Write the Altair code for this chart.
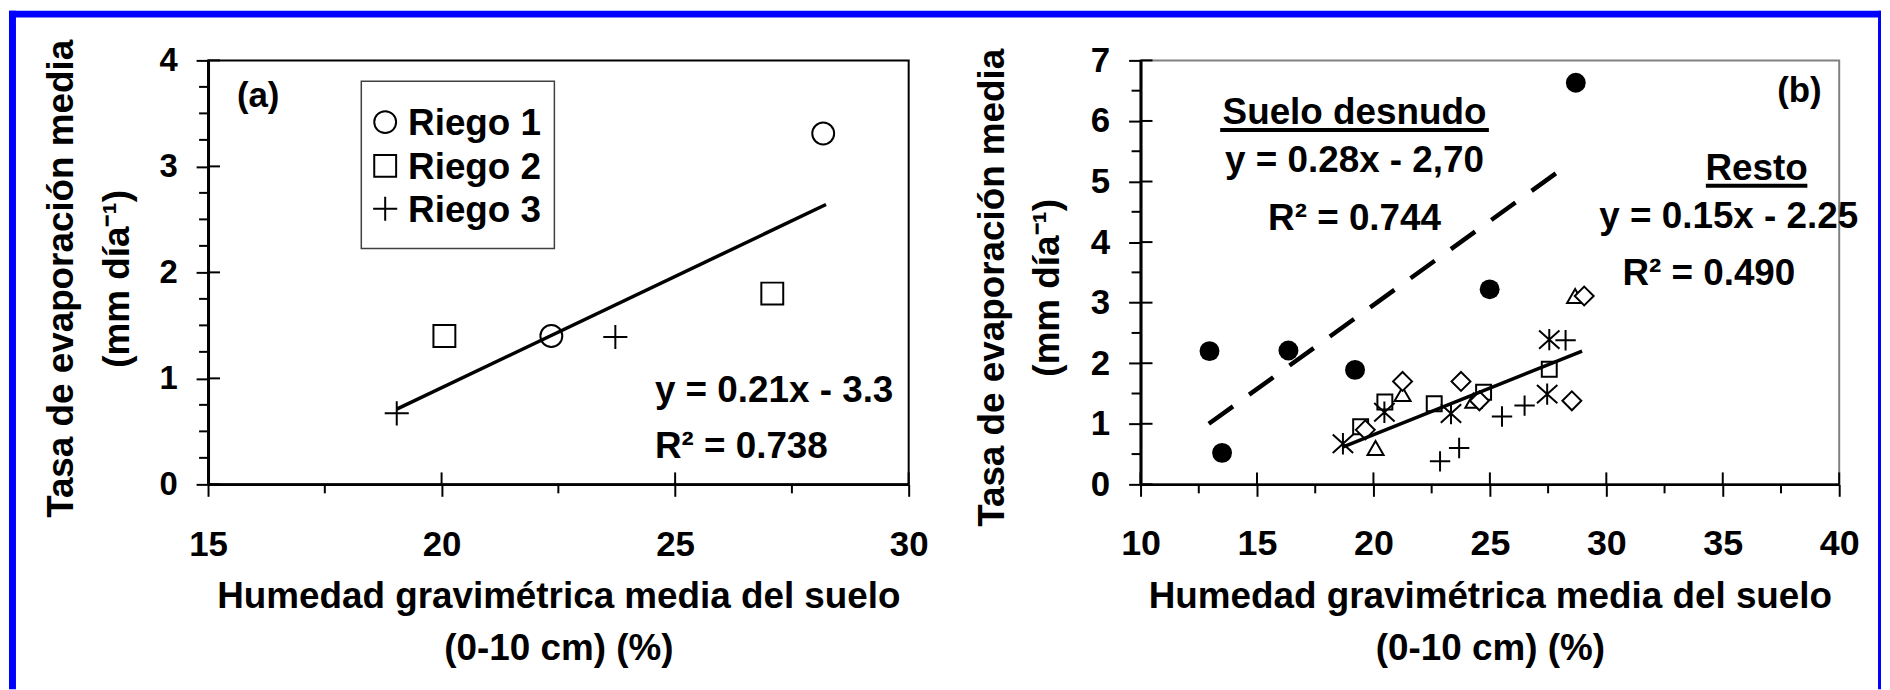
import altair as alt
import pandas as pd

FONT = "Liberation Sans"

# ---------------- panel (a) data ----------------
a_r1_x = [22.35, 28.17]
a_r1_y = [1.40, 3.31]
a_r2_x = [20.06, 27.08]
a_r2_y = [1.40, 1.80]
a_r3_x = [19.04, 23.72]
a_r3_y = [0.67, 1.39]
a_fit_x = [19.04, 28.23]
a_fit_y = [0.71, 2.64]
a_x_major = [15, 20, 25, 30]
a_x_minor = [17.5, 22.5, 27.5]
a_y_major = [0, 1, 2, 3, 4]
a_y_minor = [0.25, 0.5, 0.75, 1.25, 1.5, 1.75, 2.25, 2.5, 2.75, 3.25, 3.5, 3.75]
a_legend = ["Riego 1", "Riego 2", "Riego 3"]
a_tag = ["(a)"]
a_eq = ["y = 0.21x - 3.3"]
a_r2 = ["R\u00b2 = 0.738"]

# ---------------- panel (b) data ----------------
b_bare_x = [12.96, 13.50, 16.35, 19.21, 24.99, 28.69]
b_bare_y = [2.20, 0.52, 2.21, 1.89, 3.22, 6.63]
b_sq_x = [19.45, 20.49, 22.61, 24.73, 27.55]
b_sq_y = [0.95, 1.36, 1.33, 1.52, 1.90]
b_tri_x = [20.09, 21.25, 24.29, 28.66]
b_tri_y = [0.60, 1.49, 1.38, 3.11]
b_dia_x = [19.65, 21.25, 23.76, 24.55, 28.52, 29.05]
b_dia_y = [0.90, 1.70, 1.70, 1.38, 1.38, 3.11]
b_ast_x = [18.69, 20.47, 23.33, 27.46, 27.55]
b_ast_y = [0.67, 1.19, 1.17, 1.49, 2.39]
b_plus_x = [22.86, 23.68, 25.52, 26.49, 28.25]
b_plus_y = [0.38, 0.60, 1.12, 1.30, 2.38]
b_fit_bare_x = [12.93, 28.43]
b_fit_bare_y = [1.00, 5.30]
b_fit_rest_x = [18.70, 28.96]
b_fit_rest_y = [0.62, 2.20]
b_x_major = [10, 15, 20, 25, 30, 35, 40]
b_x_minor = [12.5, 17.5, 22.5, 27.5, 32.5, 37.5]
b_y_major = [0, 1, 2, 3, 4, 5, 6, 7]
b_y_minor = [0.5, 1.5, 2.5, 3.5, 4.5, 5.5, 6.5]
b_tag = ["(b)"]
b_head1 = ["Suelo desnudo"]
b_eq1 = ["y = 0.28x - 2,70"]
b_r21 = ["R\u00b2 = 0.744"]
b_head2 = ["Resto"]
b_eq2 = ["y = 0.15x - 2.25"]
b_r22 = ["R\u00b2 = 0.490"]

x_title = ["Humedad gravim\u00e9trica media del suelo", "(0-10 cm) (%)"]
y_title = ["Tasa de evaporaci\u00f3n media", "(mm d\u00eda\u207b\u00b9)"]

PLUS_A = "M-1.1,0H1.1M0,-1.1V1.1"
PLUS = "M-1,0H1M0,-1V1"
AST = "M0,-1.05V1.05M-1,-0.9L1,0.9M-1,0.9L1,-0.9"

W, H = 704, 426
WB = 702


def encs(xdom, ydom, xvals, yvals, w, xfs, yfs, xpad, ypad, ytx, yty):
    X = alt.X(
        "x:Q",
        scale=alt.Scale(domain=xdom, nice=False, zero=False),
        axis=alt.Axis(
            values=xvals, format="d", grid=False, labelFlush=False, labelOverlap=False,
            labelFontSize=xfs, labelPadding=xpad, labelFont=FONT, labelFontWeight="bold",
            labelColor="black", tickSize=12, tickWidth=2, tickColor="black",
            domainColor="black", domainWidth=2.5,
            title=x_title, titleFont=FONT, titleFontWeight="bold", titleFontSize=37,
            titleColor="black", titleX=w / 2, titleY=124, titleAlign="center",
            titleBaseline="alphabetic", titleLineHeight=52,
        ),
    )
    Y = alt.Y(
        "y:Q",
        scale=alt.Scale(domain=ydom, nice=False, zero=False),
        axis=alt.Axis(
            values=yvals, format="d", grid=False, labelOverlap=False,
            labelFontSize=yfs, labelPadding=ypad, labelFont=FONT, labelFontWeight="bold",
            labelColor="black", tickSize=12, tickWidth=2, tickColor="black",
            domainColor="black", domainWidth=3,
            title=y_title, titleFont=FONT, titleFontWeight="bold", titleFontSize=37,
            titleColor="black", titleAngle=270, titleX=ytx, titleY=yty,
            titleAlign="center", titleBaseline="alphabetic", titleLineHeight=56,
        ),
    )
    return X, Y


def tick_layers(X, Y, xmaj, xmin, ymaj, ymin, h):
    r = []
    r.append(alt.Chart(pd.DataFrame({"x": xmaj})).mark_rule(color="black", strokeWidth=2)
             .encode(x=X, y=alt.value(h), y2=alt.value(h - 12)))
    r.append(alt.Chart(pd.DataFrame({"x": xmin})).mark_rule(color="black", strokeWidth=2)
             .encode(x=X, y=alt.value(h), y2=alt.value(h + 9)))
    r.append(alt.Chart(pd.DataFrame({"y": ymaj})).mark_rule(color="black", strokeWidth=2)
             .encode(y=Y, x=alt.value(0), x2=alt.value(12)))
    r.append(alt.Chart(pd.DataFrame({"y": ymin})).mark_rule(color="black", strokeWidth=2)
             .encode(y=Y, x=alt.value(0), x2=alt.value(-9)))
    return r


def txt(lst, px, py, align="center", fs=37):
    return (alt.Chart(pd.DataFrame({"t": lst}))
            .mark_text(font=FONT, fontWeight="bold", fontSize=fs, color="black",
                       align=align, baseline="alphabetic")
            .encode(x=alt.value(px), y=alt.value(py), text="t:N"))


def uline(x1, x2, py):
    return (alt.Chart(pd.DataFrame({"k": [0]})).mark_rule(color="black", strokeWidth=4)
            .encode(x=alt.value(x1), x2=alt.value(x2), y=alt.value(py)))


def brect(x1, x2, y1, y2):
    return (alt.Chart(pd.DataFrame({"k": [0]})).mark_rect(color="#0000FF")
            .encode(x=alt.value(x1), x2=alt.value(x2), y=alt.value(y1), y2=alt.value(y2)))


def open_pts(xs, ys, X, Y, shape, size):
    return (alt.Chart(pd.DataFrame({"x": xs, "y": ys}))
            .mark_point(shape=shape, filled=False, fill="white", color="black",
                        strokeWidth=2, size=size, opacity=1)
            .encode(x=X, y=Y))


def sym(shape, size, px, py):
    return (alt.Chart(pd.DataFrame({"k": [0]}))
            .mark_point(shape=shape, filled=False, fill="white", color="black",
                        strokeWidth=2, size=size, opacity=1)
            .encode(x=alt.value(px), y=alt.value(py)))


# ---------------- panel (a) ----------------
XA, YA = encs([15, 30], [0, 4], a_x_major, a_y_major, W, 35, 33, 31, 19, -136, 219)

fit_a = (alt.Chart(pd.DataFrame({"x": a_fit_x, "y": a_fit_y}))
         .mark_line(color="black", strokeWidth=3.5)
         .encode(x=XA, y=YA))

legend_box = (alt.Chart(pd.DataFrame({"k": [0]}))
              .mark_rect(fill="white", stroke="#404040", strokeWidth=1.5)
              .encode(x=alt.value(154), x2=alt.value(348), y=alt.value(21), y2=alt.value(189)))

layers_a = tick_layers(XA, YA, a_x_major, a_x_minor, a_y_major, a_y_minor, H)
layers_a += [
    open_pts(a_r1_x, a_r1_y, XA, YA, "circle", 484),
    open_pts(a_r2_x, a_r2_y, XA, YA, "square", 484),
    open_pts(a_r3_x, a_r3_y, XA, YA, PLUS_A, 484),
    fit_a,
    legend_box,
    sym("circle", 484, 178, 62),
    sym("square", 484, 178, 106),
    sym(PLUS_A, 484, 178, 149),
    txt(a_legend[0:1], 201, 75, align="left", fs=37),
    txt(a_legend[1:2], 201, 119, align="left", fs=37),
    txt(a_legend[2:3], 201, 162, align="left", fs=37),
    txt(a_tag, 29, 47, align="left", fs=35),
    txt(a_eq, 449, 343, align="left"),
    txt(a_r2, 449, 400, align="left"),
    brect(-200, 1681, -50, -43),
    brect(-200, -193, -50, 632),
    brect(1678, 1681, -50, 632),
]

panel_a = alt.layer(*layers_a).properties(
    width=W, height=H, view=alt.ViewBackground(stroke="black", strokeWidth=2)
)

# ---------------- panel (b) ----------------
XB, YB = encs([10, 40], [0, 7], b_x_major, b_y_major, WB, 36, 35, 30, 19, -138, 228)

bare = (alt.Chart(pd.DataFrame({"x": b_bare_x, "y": b_bare_y}))
        .mark_point(shape="circle", filled=True, color="black", size=400, opacity=1)
        .encode(x=XB, y=YB))

layers_b = tick_layers(XB, YB, b_x_major, b_x_minor, b_y_major, b_y_minor, H)
layers_b += [
    bare,
    open_pts(b_sq_x, b_sq_y, XB, YB, "square", 225),
    open_pts(b_tri_x, b_tri_y, XB, YB, "triangle-up", 260),
    open_pts(b_dia_x, b_dia_y, XB, YB, "diamond", 361),
    open_pts(b_ast_x, b_ast_y, XB, YB, AST, 420),
    open_pts(b_plus_x, b_plus_y, XB, YB, PLUS, 420),
    alt.Chart(pd.DataFrame({"x": b_fit_bare_x, "y": b_fit_bare_y}))
    .mark_line(color="black", strokeWidth=4.5, strokeDash=[30, 20], strokeCap="butt")
    .encode(x=XB, y=YB),
    alt.Chart(pd.DataFrame({"x": b_fit_rest_x, "y": b_fit_rest_y}))
    .mark_line(color="black", strokeWidth=3.5)
    .encode(x=XB, y=YB),
    txt(b_tag, 662, 42, fs=35),
    txt(b_head1, 215, 64),
    uline(80, 350, 70),
    txt(b_eq1, 215, 112),
    txt(b_r21, 215, 170),
    txt(b_head2, 619, 120),
    uline(568, 670, 126),
    txt(b_eq2, 591, 168),
    txt(b_r22, 571, 226),
]

panel_b = alt.layer(*layers_b).properties(
    width=WB, height=H, view=alt.ViewBackground(stroke="#808080", strokeWidth=2)
)

chart = alt.hconcat(panel_a, panel_b, spacing=233, bounds="flush").properties(
    padding={"left": 0, "top": 0, "right": 0, "bottom": 0}
).configure(background="white")

chart.save("out.html", embed_options={"renderer": "svg", "actions": False})
